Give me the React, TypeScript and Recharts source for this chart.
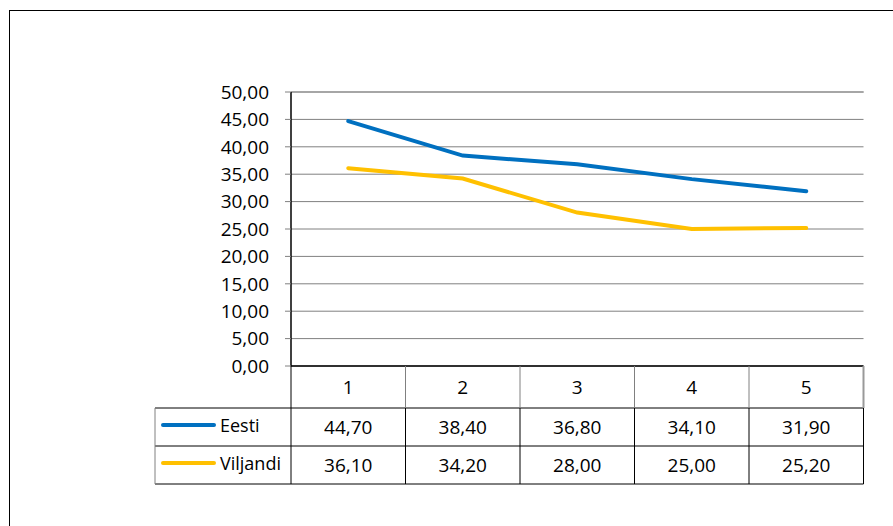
import React from "react";
import { LineChart, Line, XAxis, YAxis, CartesianGrid, ReferenceLine } from "recharts";

const categories = ["1", "2", "3", "4", "5"];
const eesti = [44.7, 38.4, 36.8, 34.1, 31.9];
const viljandi = [36.1, 34.2, 28.0, 25.0, 25.2];
const yTicks = [0, 5, 10, 15, 20, 25, 30, 35, 40, 45, 50];
const seriesNames = ["Eesti", "Viljandi"];
const seriesColors = ["#0070C0", "#FFC000"];
const seriesValues = [eesti, viljandi];

const data = categories.map((c, i) => ({ cat: c, Eesti: eesti[i], Viljandi: viljandi[i] }));

const W = 893;
const H = 526;
const M = { top: 92, right: 29.5, bottom: 42, left: 231 };
const Y_W = 60;
const X_H = 118;
const PLOT_L = M.left + Y_W;
const PLOT_R = W - M.right;
const PLOT_B = H - M.bottom - X_H;
const COL_W = (PLOT_R - PLOT_L) / categories.length;
const ROW1 = PLOT_B + 42;
const ROW2 = ROW1 + 38;
const ROW3 = ROW2 + 38;
const LEG_L = 155;
const FONT = "'Open Sans', sans-serif";

const fmt = (v: number) => v.toFixed(2).replace(".", ",");

const TableTick = (props: any) => {
  const { payload, index } = props;
  const x = payload.coordinate;
  const right = x + COL_W / 2;
  const left = x - COL_W / 2;
  return (
    <g>
      {index === 0 && (
        <g>
          <line x1={left} y1={PLOT_B} x2={left} y2={ROW3} stroke="#000" strokeWidth={1} />
          {[ROW1, ROW2, ROW3].map((yy, k) => (
            <line key={k} x1={LEG_L} y1={yy} x2={PLOT_R} y2={yy} stroke="#000" strokeWidth={1} />
          ))}
          <line x1={LEG_L} y1={ROW1} x2={LEG_L} y2={ROW3} stroke="#808080" strokeWidth={1} />
          {seriesNames.map((n, k) => {
            const cy = (k === 0 ? (ROW1 + ROW2) / 2 : (ROW2 + ROW3) / 2) - 2;
            return (
              <g key={n}>
                <line x1={163} y1={cy} x2={214} y2={cy} stroke={seriesColors[k]} strokeWidth={4} strokeLinecap="round" />
                <text x={220} y={cy} fontSize={18} fontFamily={FONT} fill="#000" dominantBaseline="central">{n}</text>
              </g>
            );
          })}
        </g>
      )}
      <line x1={right} y1={PLOT_B} x2={right} y2={ROW1} stroke={index === categories.length - 1 ? "#999" : "#808080"} strokeWidth={index === categories.length - 1 ? 2 : 1} />
      <line x1={right} y1={ROW1} x2={right} y2={ROW3} stroke="#000" strokeWidth={1} />
      <text x={x} y={(PLOT_B + ROW1) / 2} fontSize={19} fontFamily={FONT} fill="#000" textAnchor="middle" dominantBaseline="central">{payload.value}</text>
      {seriesValues.map((vals, k) => (
        <text key={k} x={x} y={k === 0 ? (ROW1 + ROW2) / 2 : (ROW2 + ROW3) / 2} fontSize={19} fontFamily={FONT} fill="#000" textAnchor="middle" dominantBaseline="central">
          {fmt(vals[index])}
        </text>
      ))}
    </g>
  );
};

export default function App() {
  return (
    <div style={{ position: "fixed", left: 0, top: 0, width: W, height: H, overflow: "hidden", background: "#fff" }}>
      <div style={{ position: "absolute", left: 9, top: 10, width: 2000, height: 2000, borderLeft: "1.5px solid #000", borderTop: "1.5px solid #000", boxSizing: "border-box" }} />
      <div style={{ position: "absolute", left: 0, top: 0 }}>
        <LineChart width={W} height={H} data={data} margin={M}>
          <CartesianGrid horizontal vertical={false} stroke="#808080" yAxisId="left" />
          <XAxis
            dataKey="cat"
            height={X_H}
            interval={0}
            tickLine={false}
            axisLine={{ stroke: "#000", strokeWidth: 1.5 }}
            padding={{ left: COL_W / 2, right: COL_W / 2 }}
            tick={<TableTick />}
          />
          <YAxis
            yAxisId="left"
            width={Y_W}
            domain={[0, 50]}
            ticks={yTicks}
            interval={0}
            tickFormatter={fmt}
            tickSize={6}
            tickMargin={16}
            tickLine={{ stroke: "#808080" }}
            axisLine={{ stroke: "#000", strokeWidth: 1.5 }}
            tick={{ fill: "#000", fontSize: 19, fontFamily: FONT }}
          />
          <YAxis
            yAxisId="right"
            orientation="right"
            width={0}
            domain={[0, 50]}
            tick={false}
            tickLine={false}
            axisLine={{ stroke: "#999", strokeWidth: 2 }}
          />
          <ReferenceLine yAxisId="left" y={50} stroke="#a6a6a6" strokeWidth={2} />
          <Line yAxisId="left" dataKey="Eesti" stroke={seriesColors[0]} strokeWidth={4} dot={false} isAnimationActive={false} strokeLinecap="round" />
          <Line yAxisId="left" dataKey="Viljandi" stroke={seriesColors[1]} strokeWidth={4} dot={false} isAnimationActive={false} strokeLinecap="round" />
        </LineChart>
      </div>
    </div>
  );
}
